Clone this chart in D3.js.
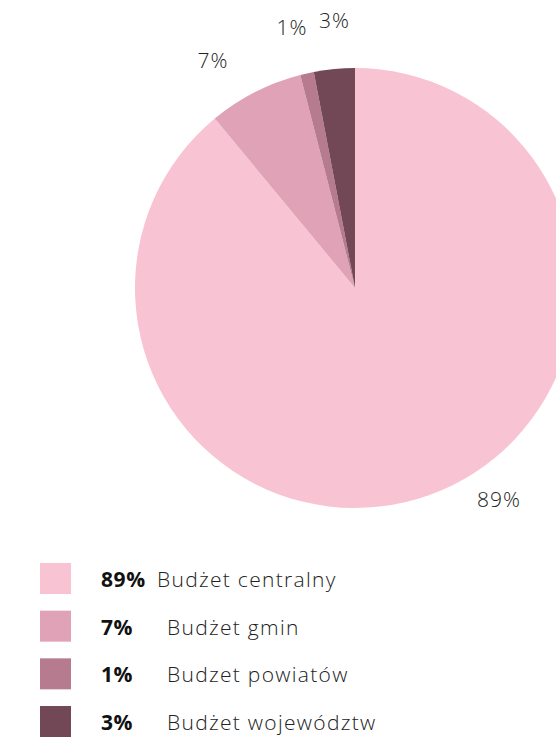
<!DOCTYPE html>
<html>
<head>
<meta charset="utf-8">
<script src="https://cdn.jsdelivr.net/npm/d3@7"></script>
<style>
	body { margin: 0; background: #fff; }
	svg { display: block; font-family: "Open Sans", "Noto Sans", sans-serif; }
</style>
</head>
<body>
<svg id="chart" width="556" height="737"></svg>
<script>
let categories = ["Budżet centralny", "Budżet gmin", "Budzet powiatów", "Budżet województw"];
let shares = [89, 7, 1, 3];
let colours = ["#f8c3d3", "#e0a2b7", "#b67b8f", "#734856"];

function drawPie(holder){
	let cx = 355, cy = 288, radius = 220;
	let svg = d3.select(holder);

	let data = categories.map((c, i) => ({"key": c, "value": shares[i], "colour": colours[i]}));

	let pie = d3.pie()
		.value(d => d.value)
		.sort(null);

	let arc = d3.arc().innerRadius(0).outerRadius(radius);
	let labelArc = d3.arc().innerRadius(268).outerRadius(268);
	let bigLabelArc = d3.arc().innerRadius(256).outerRadius(256);

	let group = svg.append("g").attr("class", "pie")
		.attr("transform", "translate(" + cx + "," + cy + ")");

	let slices = pie(data);

	group.selectAll("path")
		.data(slices)
		.join("path")
		.attr("d", arc)
		.attr("fill", d => d.data.colour);

	group.selectAll("text")
		.data(slices)
		.join("text")
		.attr("transform", function(d){
			let p;
			if (d.endAngle - d.startAngle > Math.PI){
				// the big slice has its label pulled towards the lower right
				p = bigLabelArc.centroid({"startAngle": 0, "endAngle": 1.62 * Math.PI});
			} else {
				// small slices crowd at the top, so spread their labels apart
				let mid = (d.startAngle + d.endAngle) / 2;
				let shift = -0.087 + 0.278 * (mid - 5.812);
				p = labelArc.centroid({"startAngle": d.startAngle + shift, "endAngle": d.endAngle + shift});
			}
			return "translate(" + p[0] + "," + p[1] + ")";
		})
		.attr("text-anchor", "middle")
		.attr("dy", "0.35em")
		.attr("font-size", 21)
		.attr("font-weight", 300)
		.attr("letter-spacing", 1)
		.attr("fill", "#222")
		.text(d => d.data.value + "%");

	// legend
	let scaleY = d3.scaleBand()
		.domain(categories)
		.range([563, 737])
		.paddingInner(0.35);

	let legend = svg.append("g").attr("class", "legend");
	let rows = legend.selectAll("g.row")
		.data(data)
		.join("g")
		.attr("class", "row")
		.attr("transform", d => "translate(40," + scaleY(d.key) + ")");

	rows.append("rect")
		.attr("width", 31)
		.attr("height", 31)
		.attr("fill", d => d.colour);

	rows.append("text")
		.attr("x", 61)
		.attr("y", 24)
		.attr("font-size", 21)
		.attr("font-weight", 700)
		.attr("letter-spacing", 0.6)
		.attr("fill", "#111")
		.text(d => d.value + "%");

	rows.append("text")
		.attr("x", (d, i) => i === 0 ? 117 : 127)
		.attr("y", 24)
		.attr("font-size", 21)
		.attr("font-weight", 300)
		.attr("letter-spacing", 1.3)
		.attr("fill", "#222")
		.text(d => d.key);
}

drawPie("#chart");
</script>
</body>
</html>
